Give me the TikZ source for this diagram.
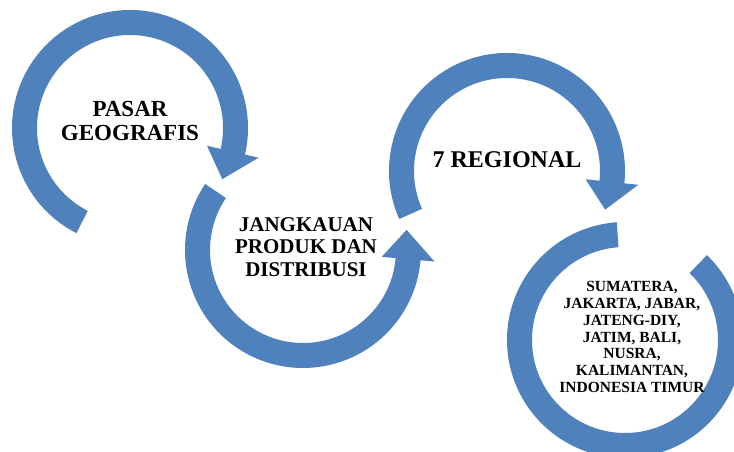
\documentclass[tikz,border=0pt]{standalone}
\usepackage{fontspec}
\setmainfont{Liberation Serif}
\definecolor{arrowblue}{RGB}{79,129,189}
\tikzset{
  ring/.style={fill=arrowblue},
  caption/.style={align=center,inner sep=0pt,font=\bfseries}
}
\begin{document}
\begin{tikzpicture}[x=1pt,y=1pt]
\useasboundingbox (0,0) rectangle (734,452);
\clip (0,0) rectangle (734,452);

% first arrow, clockwise
\fill[ring,shift={(130,324)}] (243:118pt) arc[start angle=243,end angle=-13,radius=118pt]
  -- (-13:132pt) -- (-29:105.5pt) -- (-13:79pt) -- (-13:93pt)
  arc[start angle=-13,end angle=243,radius=93pt] -- cycle;
% second arrow, counter clockwise
\fill[ring,shift={(303,202)}] (146:118pt) arc[start angle=146,end angle=355,radius=118pt]
  -- (355:132pt) -- (371:105.5pt) -- (355:79pt) -- (355:93pt)
  arc[start angle=355,end angle=146,radius=93pt] -- cycle;
% third arrow, clockwise
\fill[ring,shift={(507,281)}] (204:118pt) arc[start angle=204,end angle=-6,radius=118pt]
  -- (-6:132pt) -- (-21.5:105.5pt) -- (-6:79pt) -- (-6:93pt)
  arc[start angle=-6,end angle=204,radius=93pt] -- cycle;
% last ring, no head
\fill[ring,shift={(625,112)}] (94:118pt) arc[start angle=94,end angle=406,radius=118pt]
  -- (406:93pt) arc[start angle=406,end angle=94,radius=93pt] -- cycle;

\node[caption,font=\bfseries\fontsize{23}{23.5}\selectfont] (pasar) at (130,331) {PASAR\\GEOGRAFIS};
\node[caption,font=\bfseries\fontsize{21}{22.5}\selectfont] (jangkauan) at (306,205) {JANGKAUAN\\PRODUK DAN\\DISTRIBUSI};
\node[caption,font=\bfseries\fontsize{24}{25}\selectfont] (regional) at (507,292) {7 REGIONAL};
\node[caption,font=\bfseries\fontsize{15.5}{16.7}\selectfont] (wilayah) at (632,115)
  {SUMATERA,\\JAKARTA, JABAR,\\JATENG-DIY,\\JATIM, BALI,\\NUSRA,\\KALIMANTAN,\\INDONESIA TIMUR};
\end{tikzpicture}
\end{document}
